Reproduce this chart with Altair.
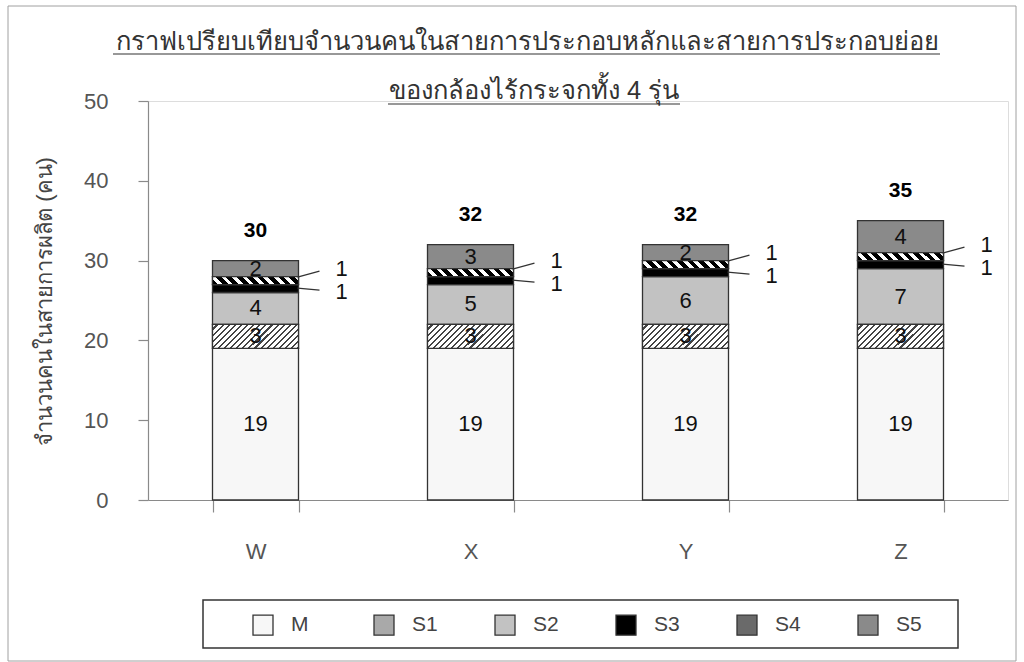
import altair as alt
import pandas as pd

# ---------------- data ----------------
models = ["W", "X", "Y", "Z"]
series = ["M", "S1", "S2", "S3", "S4", "S5"]
m_vals = [19, 19, 19, 19]
s1_vals = [3, 3, 3, 3]
s2_vals = [4, 5, 6, 7]
s3_vals = [1, 1, 1, 1]
s4_vals = [1, 1, 1, 1]
s5_vals = [2, 3, 2, 4]

title_line1 = "กราฟเปรียบเทียบจำนวนคนในสายการประกอบหลักและสายการประกอบย่อย"
title_line2 = "ของกล้องไร้กระจกทั้ง  4 รุ่น"
y_title = "จำนวนคนในสายการผลิต  (คน)"

all_vals = [m_vals, s1_vals, s2_vals, s3_vals, s4_vals, s5_vals]
rows = []
for si, (s, vals) in enumerate(zip(series, all_vals)):
    for m, v in zip(models, vals):
        rows.append({"model": m, "series": s, "value": v, "order": si})
df = pd.DataFrame(rows)

FONT = "Liberation Sans, Arial, DejaVu Sans, sans-serif"
fill_colors = ["#f7f7f7", "#a9a9a9", "#c2c2c2", "#000000", "#6a6a6a", "#8a8a8a"]


def stripes(n, c_bg, c_line, frac, x1, y1, x2, y2):
    stops = []
    for i in range(n):
        a = i / n
        b = (i + 1 - frac) / n
        c = (i + 1) / n
        stops += [
            {"offset": a, "color": c_bg},
            {"offset": b, "color": c_bg},
            {"offset": b, "color": c_line},
            {"offset": c, "color": c_line},
        ]
    return {"gradient": "linear", "x1": x1, "y1": y1, "x2": x2, "y2": y2, "stops": stops}


# S1 hatch "/" (bar ~86 x 24 px): r = H/W
r1 = 24 / 86
k1 = (1 + r1) / (1 + r1 * r1)
grad_s1 = stripes(18, "#ffffff", "#444444", 0.35, 0, 0, k1, k1 * r1)
# S4 wide stripes "\" (bar ~86 x 8 px)
r4 = 8 / 86
k4 = (1 + r4) / (1 + r4 * r4)
grad_s4 = stripes(9, "#000000", "#ffffff", 0.45, 0, 1, k4, 1 - k4 * r4)

base = alt.Chart(df).transform_stack(
    stack="value", groupby=["model"], as_=["y0", "y1"], sort=[alt.SortField("order")]
).transform_calculate(mid="(datum.y0 + datum.y1) / 2")

x_enc = alt.X(
    "model:N",
    sort=models,
    title=None,
    scale=alt.Scale(paddingInner=0.6, paddingOuter=0.3),
    axis=alt.Axis(
        labelAngle=0, tickBand="extent", tickSize=12, labelPadding=29,
        labelFontSize=22, labelColor="#555555", labelFont=FONT,
        domainColor="#8a8a8a", tickColor="#8a8a8a", domainWidth=1.2, tickWidth=1.2,
    ),
)
y_enc = alt.Y(
    "y0:Q",
    scale=alt.Scale(domain=[0, 50]),
    title=y_title,
    axis=alt.Axis(
        values=[0, 10, 20, 30, 40, 50], grid=False, tickSize=10, labelPadding=30,
        labelFontSize=22, labelColor="#555555", labelFont=FONT,
        domainColor="#8a8a8a", tickColor="#8a8a8a", domainWidth=1.2, tickWidth=1.2,
        titleFontSize=22, titleColor="#444444", titleFont=FONT, titleFontWeight="normal",
        titleX=-104, titleY=200, titleAngle=-90, titleAlign="center", titleBaseline="middle",
    ),
)

bars = base.mark_bar(stroke="#333333", strokeWidth=1.3).encode(
    x=x_enc,
    y=y_enc,
    y2="y1:Q",
    fill=alt.Fill(
        "series:N",
        scale=alt.Scale(domain=series, range=fill_colors),
        legend=alt.Legend(
            title=None, orient="none", direction="horizontal", columns=6,
            legendX=104, legendY=513, gridAlign="all", columnPadding=54,
            symbolType="square", symbolSize=400, symbolStrokeColor="#333333",
            symbolStrokeWidth=1.3, labelOffset=17, labelFontSize=21,
            labelColor="#444444", labelFont=FONT, padding=0,
        ),
    ),
    order=alt.Order("order:Q"),
)

s1_over = base.transform_filter(alt.datum.series == "S1").mark_bar(
    fill=grad_s1, stroke="#333333", strokeWidth=1.3
).encode(x=alt.X("model:N", sort=models), y="y0:Q", y2="y1:Q")

s4_over = base.transform_filter(alt.datum.series == "S4").mark_bar(
    fill=grad_s4, stroke="#333333", strokeWidth=1.3
).encode(x=alt.X("model:N", sort=models), y="y0:Q", y2="y1:Q")

inner_labels = base.transform_filter(
    alt.FieldOneOfPredicate(field="series", oneOf=["M", "S1", "S2", "S5"])
).mark_text(fontSize=22, color="#111111", font=FONT).encode(
    x=alt.X("model:N", sort=models), y="mid:Q", text="value:Q"
)

s4_label = base.transform_filter(alt.datum.series == "S4").mark_text(
    fontSize=22, color="#111111", font=FONT, dx=86, dy=-11.5
).encode(x=alt.X("model:N", sort=models), y="mid:Q", text="value:Q")

s3_label = base.transform_filter(alt.datum.series == "S3").mark_text(
    fontSize=22, color="#111111", font=FONT, dx=86, dy=3.5
).encode(x=alt.X("model:N", sort=models), y="mid:Q", text="value:Q")

s4_line = base.transform_filter(alt.datum.series == "S4").mark_rule(
    color="#333333", strokeWidth=1.3, xOffset=42, x2Offset=64, yOffset=-3.5, y2Offset=-9.5
).encode(x=alt.X("model:N", sort=models), x2="model:N", y="mid:Q", y2="mid:Q")

s3_line = base.transform_filter(alt.datum.series == "S3").mark_rule(
    color="#333333", strokeWidth=1.3, xOffset=42, x2Offset=64, yOffset=-0.5, y2Offset=1.5
).encode(x=alt.X("model:N", sort=models), x2="model:N", y="mid:Q", y2="mid:Q")

totals = base.transform_filter(alt.datum.series == "S5").mark_text(
    fontSize=21, fontWeight="bold", color="#000000", font=FONT, dy=-30
).encode(x=alt.X("model:N", sort=models), y="y1:Q", text="y1:Q")

one = alt.Chart(pd.DataFrame({"k": [0]}))

frame = one.mark_rect(filled=False, stroke="#a0a0a0", strokeWidth=1).encode(
    x=alt.value(-140), x2=alt.value(868), y=alt.value(-95), y2=alt.value(560)
)
legend_box = one.mark_rect(filled=False, stroke="#333333", strokeWidth=1.5).encode(
    x=alt.value(55), x2=alt.value(810), y=alt.value(499), y2=alt.value(547)
)
t1 = one.mark_text(fontSize=25.5, color="#333333", font=FONT, baseline="middle").encode(
    x=alt.value(379), y=alt.value(-59), text=alt.value(title_line1)
)
t2 = one.mark_text(fontSize=25.5, color="#333333", font=FONT, baseline="middle").encode(
    x=alt.value(386), y=alt.value(-10), text=alt.value(title_line2)
)
u1 = one.mark_rule(color="#333333", strokeWidth=1.2).encode(
    x=alt.value(-35), x2=alt.value(792), y=alt.value(-47), y2=alt.value(-47)
)
u2 = one.mark_rule(color="#333333", strokeWidth=1.2).encode(
    x=alt.value(240), x2=alt.value(532), y=alt.value(3), y2=alt.value(3)
)

chart = alt.layer(
    frame, legend_box, bars, s1_over, s4_over, inner_labels, s4_label, s3_label,
    s4_line, s3_line, totals, t1, t2, u1, u2
).properties(
    width=860, height=399, autosize="none",
    padding={"left": 148, "top": 101, "right": 16, "bottom": 162},
).configure_view(stroke="transparent").configure(background="white")

chart.save("out.html", embed_options={"renderer": "svg", "actions": False})
